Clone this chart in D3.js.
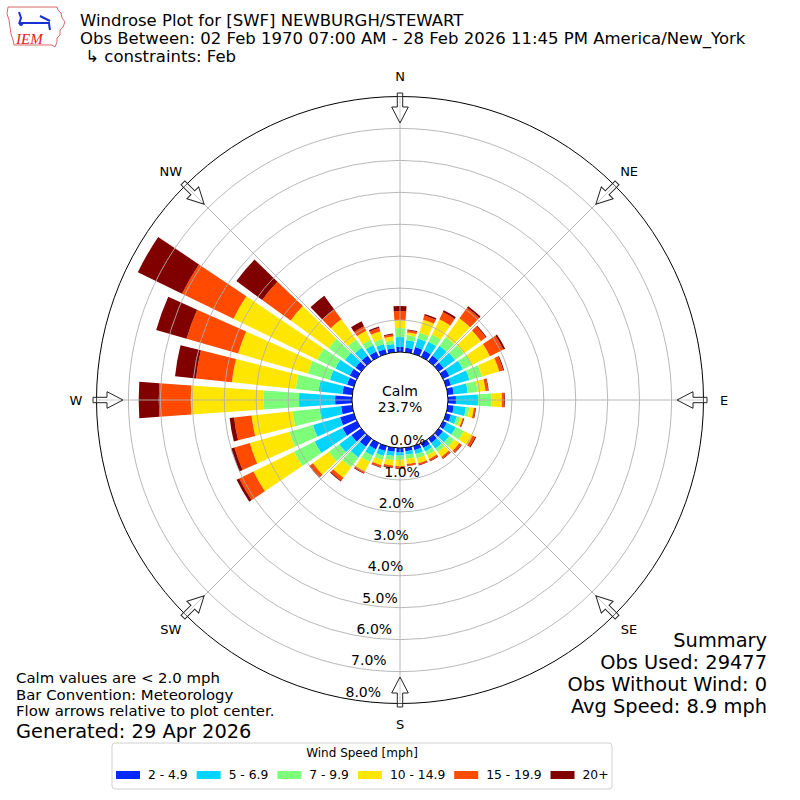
<!DOCTYPE html>
<html>
<head>
<meta charset="utf-8">
<script src="https://cdn.jsdelivr.net/npm/d3@7"></script>
<style>
  body { margin: 0; background: #fff; }
  svg { font-family: "DejaVu Sans", sans-serif; }
</style>
</head>
<body>
<svg id="chart" width="800" height="800"></svg>
<script>
// wind directions (deg, meteorological) and the speed bins
var directions = d3.range(0, 360, 10);
var speedLabels = ['2 - 4.9', '5 - 6.9', '7 - 9.9', '10 - 14.9', '15 - 19.9', '20+'];
var speedColors = ['#0028ff', '#00d4ff', '#7dff7a', '#ffe600', '#ff4a00', '#800000'];

// percent of observations per direction, one array per speed bin
var spd2to5 = [0.16, 0.14, 0.22, 0.22, 0.22, 0.19, 0.22, 0.16, 0.19, 0.25, 0.19, 0.16,
  0.13, 0.16, 0.16, 0.16, 0.13, 0.11, 0.13, 0.13, 0.16, 0.22, 0.31, 0.38,
  0.50, 0.45, 0.35, 0.53, 0.31, 0.22, 0.25, 0.22, 0.22, 0.19, 0.16, 0.13];
var spd5to7 = [0.31, 0.24, 0.28, 0.31, 0.38, 0.44, 0.47, 0.60, 0.44, 0.69, 0.38, 0.19,
  0.31, 0.25, 0.22, 0.13, 0.13, 0.11, 0.11, 0.13, 0.16, 0.22, 0.41, 0.47,
  0.97, 0.88, 0.68, 1.13, 0.75, 0.56, 0.50, 0.41, 0.31, 0.22, 0.16, 0.13];
var spd7to10 = [0.28, 0.16, 0.19, 0.25, 0.34, 0.34, 0.31, 0.41, 0.31, 0.42, 0.11, 0.11,
  0.28, 0.19, 0.13, 0.13, 0.14, 0.13, 0.13, 0.13, 0.13, 0.22, 0.38, 0.41,
  0.72, 0.77, 0.85, 1.10, 0.72, 0.72, 0.63, 0.63, 0.31, 0.19, 0.16, 0.11];
var spd10to15 = [0.25, 0.09, 0.42, 0.53, 0.72, 0.66, 0.63, 0.56, 0.25, 0.33, 0.14, 0.08,
  0.31, 0.19, 0.19, 0.14, 0.16, 0.16, 0.20, 0.17, 0.17, 0.33, 0.41, 0.61,
  1.41, 1.29, 1.29, 2.29, 2.01, 2.27, 2.92, 1.47, 0.78, 0.31, 0.25, 0.13];
var spd15to20 = [0.28, 0.06, 0.14, 0.25, 0.41, 0.19, 0.47, 0.13, 0.08, 0.06, 0.05, 0.03,
  0.09, 0.08, 0.06, 0.06, 0.05, 0.06, 0.06, 0.06, 0.06, 0.06, 0.11, 0.11,
  0.50, 0.50, 0.55, 1.00, 1.13, 1.68, 1.79, 1.10, 0.38, 0.16, 0.11, 0.06];
var spd20plus = [0.16, 0.03, 0.05, 0.06, 0.06, 0.03, 0.06, 0.03, 0.02, 0.03, 0.02, 0.02,
  0.03, 0.02, 0.02, 0.02, 0.02, 0.01, 0.02, 0.02, 0.02, 0.02, 0.03, 0.03,
  0.09, 0.11, 0.14, 0.63, 0.66, 0.99, 1.54, 1.00, 0.53, 0.17, 0.05, 0.03];

var calmPct = 23.7;
var pctTicks = [0, 1, 2, 3, 4, 5, 6, 7, 8];
var compassAngles = [0, 45, 90, 135, 180, 225, 270, 315];
var compassLabels = ['N', 'NE', 'E', 'SE', 'S', 'SW', 'W', 'NW'];

var titleLines = ['Windrose Plot for [SWF] NEWBURGH/STEWART',
  'Obs Between: 02 Feb 1970 07:00 AM - 28 Feb 2026 11:45 PM America/New_York',
  ' \u21b3 constraints: Feb'];
var noteLines = ['Calm values are < 2.0 mph', 'Bar Convention: Meteorology',
  'Flow arrows relative to plot center.'];
var generated = 'Generated: 29 Apr 2026';
var summaryLines = ['Summary', 'Obs Used: 29477', 'Obs Without Wind: 0', 'Avg Speed: 8.9 mph'];

var svg = d3.select('#chart');
var cx = 400, cy = 400;
var rad = Math.PI / 180;

var r = d3.scaleLinear().domain([0, 8]).range([48, 303.5]);

var bins = [spd2to5, spd5to7, spd7to10, spd10to15, spd15to20, spd20plus];
var rows = directions.map(function (dir, i) {
  var row = { dir: dir };
  bins.forEach(function (b, j) { row['b' + j] = b[i]; });
  return row;
});
var stack = d3.stack().keys(bins.map(function (b, j) { return 'b' + j; }));
var series = stack(rows);

var plot = svg.append('g').attr('transform', 'translate(' + cx + ',' + cy + ')');

var arc = d3.arc()
  .innerRadius(function (d) { return r(d[0]); })
  .outerRadius(function (d) { return r(d[1]); })
  .startAngle(function (d) { return (d.data.dir - 4) * rad; })
  .endAngle(function (d) { return (d.data.dir + 4) * rad; });

plot.selectAll('g.series')
  .data(series)
  .enter().append('g')
  .attr('class', 'series')
  .attr('fill', function (d, i) { return speedColors[i]; })
  .selectAll('path')
  .data(function (d) { return d; })
  .enter().append('path')
  .attr('d', arc);

// grid rings
plot.selectAll('circle.ring')
  .data(pctTicks.slice(1, 8))
  .enter().append('circle')
  .attr('class', 'ring')
  .attr('r', function (d) { return r(d); })
  .attr('fill', 'none')
  .attr('stroke', '#b0b0b0')
  .attr('stroke-width', 0.9);

// spokes
plot.selectAll('line.spoke')
  .data(compassAngles)
  .enter().append('line')
  .attr('x1', 0).attr('y1', 0)
  .attr('x2', function (d) { return r(8) * Math.sin(d * rad); })
  .attr('y2', function (d) { return -r(8) * Math.cos(d * rad); })
  .attr('stroke', '#b0b0b0')
  .attr('stroke-width', 0.9);

plot.append('circle')
  .attr('r', r(8))
  .attr('fill', 'none')
  .attr('stroke', '#000')
  .attr('stroke-width', 1);

// calm circle
plot.append('circle')
  .attr('r', r(0))
  .attr('fill', '#fff')
  .attr('stroke', '#000')
  .attr('stroke-width', 1);
plot.append('text').attr('x', 0).attr('y', -4).attr('text-anchor', 'middle')
  .attr('font-size', 14).text('Calm');
plot.append('text').attr('x', 0).attr('y', 12).attr('text-anchor', 'middle')
  .attr('font-size', 14).text(calmPct.toFixed(1) + '%');

// radial labels
var labAng = 190 * rad;
plot.selectAll('text.rlab')
  .data(pctTicks)
  .enter().append('text')
  .attr('class', 'rlab')
  .attr('x', function (d) { return r(d) * Math.sin(labAng) + 16; })
  .attr('y', function (d) { return -r(d) * Math.cos(labAng) - 7; })
  .attr('dy', '0.36em')
  .attr('text-anchor', 'middle')
  .attr('font-size', 14)
  .text(function (d) { return d.toFixed(1) + '%'; });

// compass labels
plot.selectAll('text.dir')
  .data(compassAngles)
  .enter().append('text')
  .attr('x', function (d) { return 324 * Math.sin(d * rad); })
  .attr('y', function (d) { return -324 * Math.cos(d * rad); })
  .attr('dy', '0.36em')
  .attr('text-anchor', 'middle')
  .attr('font-size', 13)
  .text(function (d, i) { return compassLabels[i]; });

// flow arrows pointing at plot center
var arrowPts = [[-2.7, -307], [2.7, -307], [2.7, -293], [8.3, -293], [0, -277],
  [-8.3, -293], [-2.7, -293]];
plot.selectAll('path.arrow')
  .data(compassAngles)
  .enter().append('path')
  .attr('transform', function (d) { return 'rotate(' + d + ')'; })
  .attr('d', d3.line()(arrowPts) + 'Z')
  .attr('fill', '#fff')
  .attr('fill-opacity', 0.3)
  .attr('stroke', '#222')
  .attr('stroke-width', 1);

// title
svg.selectAll('text.title')
  .data(titleLines)
  .enter().append('text')
  .attr('x', 80)
  .attr('y', function (d, i) { return 25.5 + i * 18.2; })
  .attr('font-size', 16.5)
  .attr('xml:space', 'preserve')
  .style('white-space', 'pre')
  .text(function (d) { return d; });

// IEM logo
var logo = svg.append('g');
logo.append('path')
  .attr('d', 'M8,7 L57,7 L58,10 L61,13 L62,18 L65,22 L63,27 L60,30 L60,35 L57,38 L57,42 L55,47 L52,45 L14,45 L13,40 L11,34 L10,27 L9,20 L7,14 Z')
  .attr('fill', '#fff').attr('stroke', '#c44').attr('stroke-width', 0.8);
logo.append('path')
  .attr('d', 'M21,23 L50,23 M19,12 L21,18 L19,24 M40,16 L50,21 M49,24 L50,30')
  .attr('fill', 'none').attr('stroke', '#1a2ed8').attr('stroke-width', 2);
logo.append('circle').attr('cx', 21).attr('cy', 24).attr('r', 2).attr('fill', '#1a2ed8');
logo.append('text').attr('x', 16).attr('y', 44)
  .attr('font-family', '"Liberation Serif", serif').attr('font-style', 'italic')
  .attr('font-size', 15).attr('fill', '#d22').text('IEM');

// notes
svg.selectAll('text.note')
  .data(noteLines)
  .enter().append('text')
  .attr('x', 16)
  .attr('y', function (d, i) { return 683 + i * 16.5; })
  .attr('font-size', 14.9)
  .text(function (d) { return d; });
svg.append('text').attr('x', 16).attr('y', 737.5).attr('font-size', 19.4).text(generated);

svg.selectAll('text.summary')
  .data(summaryLines)
  .enter().append('text')
  .attr('x', 767)
  .attr('y', function (d, i) { return 647 + i * 22; })
  .attr('text-anchor', 'end')
  .attr('font-size', 19.4)
  .text(function (d) { return d; });

// legend
var legend = svg.append('g');
legend.append('rect')
  .attr('x', 112).attr('y', 743).attr('width', 500).attr('height', 46)
  .attr('rx', 3).attr('fill', '#fff').attr('stroke', '#d0d0d0');
legend.append('text').attr('x', 362).attr('y', 757).attr('text-anchor', 'middle')
  .attr('font-size', 12).text('Wind Speed [mph]');
var lx = 116;
speedLabels.forEach(function (lab, i) {
  legend.append('rect').attr('x', lx).attr('y', 771).attr('width', 24).attr('height', 8)
    .attr('fill', speedColors[i]);
  var t = legend.append('text').attr('x', lx + 32).attr('y', 779)
    .attr('font-size', 12.3).text(lab);
  lx = lx + 32 + t.node().getComputedTextLength() + 9;
});
</script>
</body>
</html>
